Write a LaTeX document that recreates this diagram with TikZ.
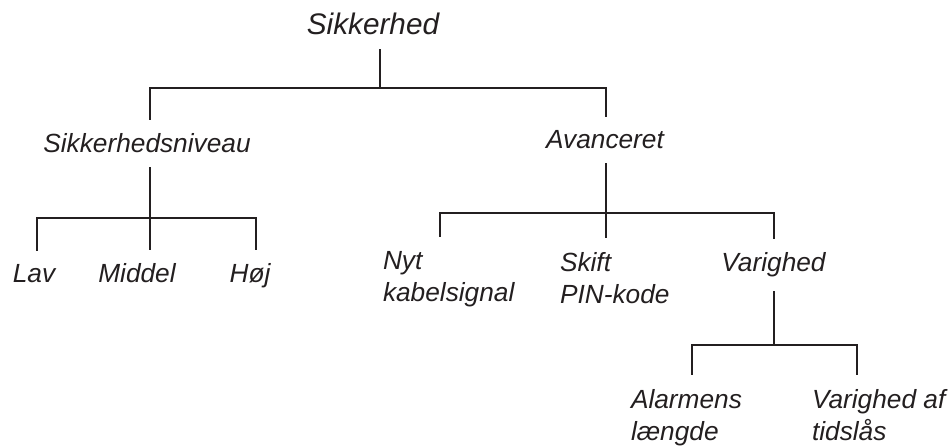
\documentclass[tikz,border=0pt]{standalone}
\usepackage{fontspec}
\setmainfont{Liberation Sans}
\usepackage{xcolor}
\definecolor{ink}{HTML}{231F20}
\tikzset{
  word/.style={inner sep=0pt, outer xsep=0pt, outer ysep=10.5pt, text=ink, font=\fontsize{19.7}{24}\selectfont\itshape},
  root/.style={word, font=\fontsize{22.3}{27}\selectfont\itshape},
  words/.style={word, align=left, anchor=north west},
  link/.style={draw=ink, line width=2pt, line join=miter}
}

\begin{document}
\begin{tikzpicture}[x=0.75pt,y=-0.75pt]
  \useasboundingbox (0,0) rectangle (952,448);

  \node[root, anchor=base] (sik) at (373,35) {Sikkerhed};

  \node[word, anchor=base] (niv) at (147,153) {Sikkerhedsniveau};
  \node[word, anchor=base] (avn) at (605,149) {Avanceret};

  \node[word, anchor=base] (lav) at (34,283) {Lav};
  \node[word, anchor=base] (mid) at (137,283) {Middel};
  \node[word, anchor=base] (hoj) at (250,283) {Høj};

  \node[words] (nyt) at (383,237) {Nyt\\kabelsignal};
  \node[words] (skift) at (560,238) {Skift\\PIN-kode};
  \node[word, anchor=base] (var) at (773.5,272) {Varighed};

  \node[words] (alarm) at (631,375) {Alarmens\\længde};
  \node[words] (tids) at (812,375) {Varighed af\\tidslås};

  \coordinate (b1) at (380,88);
  \coordinate (b1l) at (150,88);
  \coordinate (b1r) at (606,88);
  \coordinate (b2) at (150,218);
  \coordinate (b2l) at (37,218);
  \coordinate (b2r) at (256,218);
  \coordinate (b3) at (606,213);
  \coordinate (b3l) at (440,213);
  \coordinate (b3r) at (774,213);
  \coordinate (b4) at (774,345);
  \coordinate (b4l) at (692,345);
  \coordinate (b4r) at (857,345);

  \draw[link] (sik.south -| b1) -- (b1);
  \draw[link] (niv.north -| b1l) -- (b1l) -- (b1r) -- (avn.north -| b1r);

  \draw[link] (niv.south -| b2) -- (mid.north -| b2);
  \draw[link] (lav.north -| b2l) -- (b2l) -- (b2r) -- (hoj.north -| b2r);

  \draw[link] (avn.south -| b3) -- (skift.north -| b3);
  \draw[link] (nyt.north -| b3l) -- (b3l) -- (b3r) -- (var.north -| b3r);

  \draw[link] (var.south -| b4) -- (b4);
  \draw[link] (alarm.north -| b4l) -- (b4l) -- (b4r) -- (tids.north -| b4r);
\end{tikzpicture}
\end{document}
